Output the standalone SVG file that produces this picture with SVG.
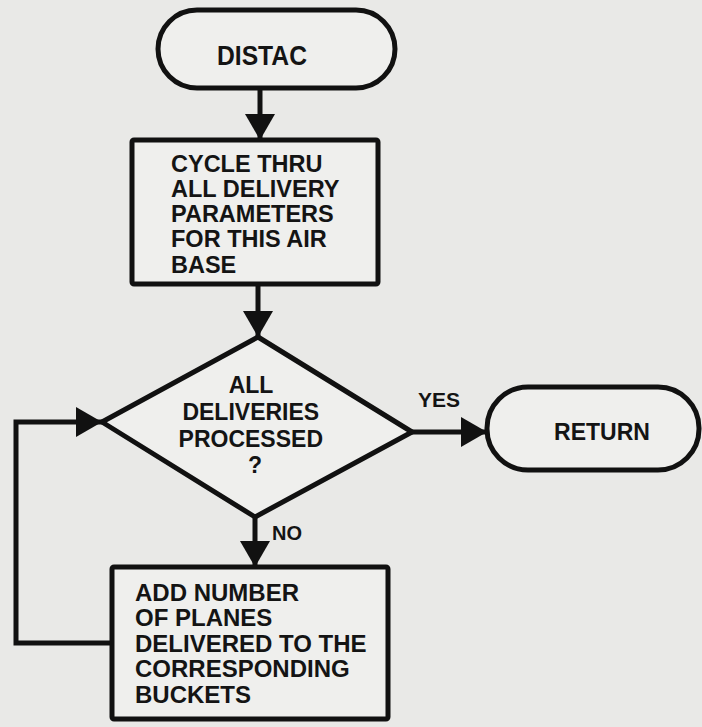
<svg xmlns="http://www.w3.org/2000/svg" width="702" height="727" viewBox="0 0 702 727">
  <style>
    .shape { fill: #efefed; stroke: #111; stroke-width: 5; stroke-linejoin: round; }
    .wire { fill: none; stroke: #111; stroke-width: 5; stroke-linejoin: miter; }
    .lbl { font-family: "Liberation Sans", Arial, Helvetica, sans-serif; font-weight: bold; fill: #141414; }
  </style>
  <defs>
    <marker id="arrow" viewBox="0 0 26 30" refX="26" refY="15" markerWidth="26" markerHeight="30" markerUnits="userSpaceOnUse" orient="auto">
      <path d="M0,0 L26,15 L0,30 Z" fill="#111"/>
    </marker>
  </defs>

  <rect width="702" height="727" fill="#e9e9e7"/>

  <!-- connectors -->
  <g id="connectors">
    <path class="wire" d="M260,88 L260,140" marker-end="url(#arrow)"/>
    <path class="wire" d="M258,284 L258,337" marker-end="url(#arrow)"/>
    <path class="wire" d="M412,432 L487,432" marker-end="url(#arrow)"/>
    <path class="wire" d="M255,517 L255,567" marker-end="url(#arrow)"/>
    <path class="wire" d="M112,643 L16,643 L16,422 L102,422" marker-end="url(#arrow)"/>
    <text class="lbl" x="418" y="407" font-size="21">YES</text>
    <text class="lbl" x="272" y="540" font-size="20">NO</text>
  </g>

  <!-- start terminal -->
  <g id="distac">
    <rect class="shape" x="158" y="10" width="237" height="78" rx="39" ry="39"/>
    <text class="lbl" x="262" y="65" font-size="27" text-anchor="middle" textLength="90" lengthAdjust="spacingAndGlyphs">DISTAC</text>
  </g>

  <!-- cycle step -->
  <g id="cycle">
    <rect class="shape" x="132" y="140" width="246" height="144" rx="2"/>
    <text class="lbl" font-size="23.5">
      <tspan x="171" y="172">CYCLE THRU</tspan>
      <tspan x="171" y="197">ALL DELIVERY</tspan>
      <tspan x="171" y="222">PARAMETERS</tspan>
      <tspan x="171" y="247">FOR THIS AIR</tspan>
      <tspan x="171" y="273">BASE</tspan>
    </text>
  </g>

  <!-- decision -->
  <g id="decision">
    <path class="shape" d="M258,337 L412,432 L255,517 L102,422 Z"/>
    <text class="lbl" font-size="23" text-anchor="middle">
      <tspan x="254" y="393">ALL</tspan>
      <tspan x="254" y="420">DELIVERIES</tspan>
      <tspan x="254" y="447">PROCESSED</tspan>
      <tspan x="255" y="473">?</tspan>
    </text>
  </g>

  <!-- return terminal -->
  <g id="return">
    <rect class="shape" x="487" y="387" width="212" height="83" rx="41" ry="41"/>
    <text class="lbl" x="602" y="440" font-size="23" text-anchor="middle">RETURN</text>
  </g>

  <!-- accumulate step -->
  <g id="add">
    <rect class="shape" x="112" y="567" width="276" height="152" rx="2"/>
    <text class="lbl" font-size="24">
      <tspan x="135" y="601">ADD NUMBER</tspan>
      <tspan x="135" y="626">OF PLANES</tspan>
      <tspan x="135" y="652">DELIVERED TO THE</tspan>
      <tspan x="135" y="677">CORRESPONDING</tspan>
      <tspan x="135" y="703">BUCKETS</tspan>
    </text>
  </g>
</svg>
